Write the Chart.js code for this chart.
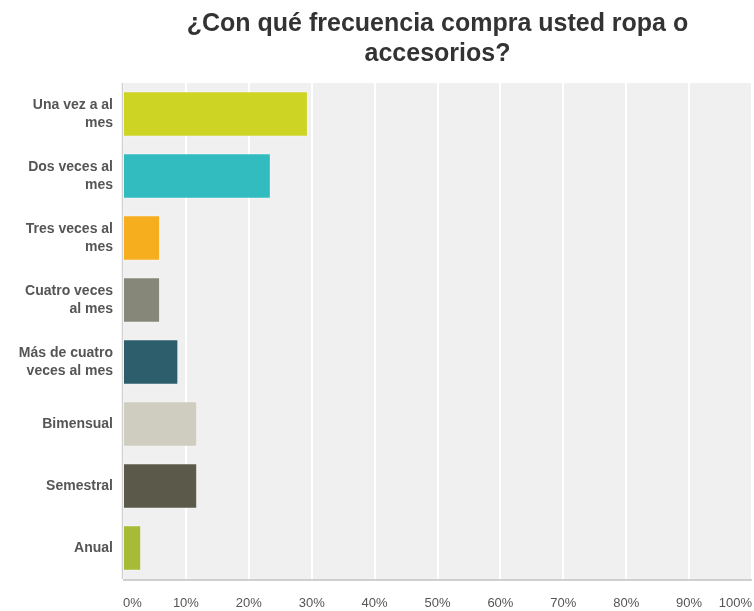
<!DOCTYPE html>
<html lang="es">
<head>
    <meta charset="UTF-8">
    <title>Frecuencia de compra</title>
    <script src="https://cdn.jsdelivr.net/npm/chart.js"></script>
    <style>
        html, body { margin: 0; padding: 0; background: #fff; }
        #wrap { width: 754px; height: 611px; }
    </style>
</head>
<body>
<div id="wrap"><canvas id="chart"></canvas></div>

<script>
    // Categories (wrapped as in the original)
    const categories = [
        ['Una vez a al', 'mes'],
        ['Dos veces al', 'mes'],
        ['Tres veces al', 'mes'],
        ['Cuatro veces', 'al mes'],
        ['Más de cuatro', 'veces al mes'],
        'Bimensual',
        'Semestral',
        'Anual'
    ];
    // Percent of respondents
    const percentages = [29.4, 23.5, 5.9, 5.9, 8.8, 11.8, 11.8, 2.9];
    const barColors = ['#cdd424', '#32bcbf', '#f7ae1e', '#868778', '#2d5e6c', '#cfcdbf', '#5b5a4a', '#a8bb36'];
    const tickValues = [0, 10, 20, 30, 40, 50, 60, 70, 80, 90, 100];

    // gray plot background + borders
    const plotBg = {
        id: 'plotBg',
        beforeDraw(chart) {
            const { ctx, chartArea: a } = chart;
            ctx.save();
            ctx.fillStyle = '#f0f0f0';
            ctx.fillRect(a.left, a.top, a.right - a.left, a.bottom - a.top);
            ctx.restore();
        },
        afterDatasetsDraw(chart) {
            const { ctx, chartArea: a } = chart;
            ctx.save();
            ctx.strokeStyle = '#cfcfcf';
            ctx.lineWidth = 2;
            ctx.beginPath();
            ctx.moveTo(a.left, a.bottom + 1);
            ctx.lineTo(a.right, a.bottom + 1);
            ctx.stroke();
            ctx.strokeStyle = '#d0d0d0';
            ctx.lineWidth = 1.5;
            ctx.beginPath();
            ctx.moveTo(a.left - 0.5, a.top);
            ctx.lineTo(a.left - 0.5, a.bottom);
            ctx.stroke();
            ctx.restore();
        }
    };

    new Chart(document.getElementById('chart'), {
        type: 'bar',
        data: {
            labels: categories,
            datasets: [{
                data: percentages,
                backgroundColor: barColors,
                borderColor: 'rgba(255,255,255,0.25)',
                borderWidth: 1,
                categoryPercentage: 0.73,
                barPercentage: 1
            }]
        },
        options: {
            indexAxis: 'y',
            responsive: true,
            maintainAspectRatio: false,
            animation: false,
            layout: { padding: { top: 0, right: 2, bottom: 0, left: 0 } },
            plugins: {
                legend: { display: false },
                tooltip: { enabled: false },
                title: {
                    display: true,
                    fullSize: false,
                    text: ['¿Con qué frecuencia compra usted ropa o', 'accesorios?'],
                    color: '#333',
                    font: { family: 'Liberation Sans, Arial, sans-serif', size: 25, weight: 'bold', lineHeight: 1.2 },
                    padding: { top: 9, bottom: 14 }
                }
            },
            scales: {
                x: {
                    min: 0,
                    max: 100,
                    afterBuildTicks(scale) {
                        scale.ticks = tickValues.map(v => ({ value: v }));
                    },
                    afterFit(scale) {
                        scale.height = 32;
                        scale.paddingLeft = 0;
                        scale.paddingRight = 0;
                    },
                    grid: { color: '#ffffff', lineWidth: 2, drawTicks: false },
                    border: { display: false },
                    ticks: {
                        align: 'inner',
                        padding: 17,
                        color: '#555',
                        font: { family: 'Liberation Sans, Arial, sans-serif', size: 13 },
                        callback: v => v + '%'
                    }
                },
                y: {
                    afterFit(scale) { scale.width = 123; },
                    grid: { display: false, drawTicks: false },
                    border: { display: false },
                    ticks: {
                        padding: 10,
                        color: '#555',
                        font: { family: 'Liberation Sans, Arial, sans-serif', size: 14, weight: 'bold', lineHeight: 1.3 }
                    }
                }
            }
        },
        plugins: [plotBg]
    });
</script>
</body>
</html>
